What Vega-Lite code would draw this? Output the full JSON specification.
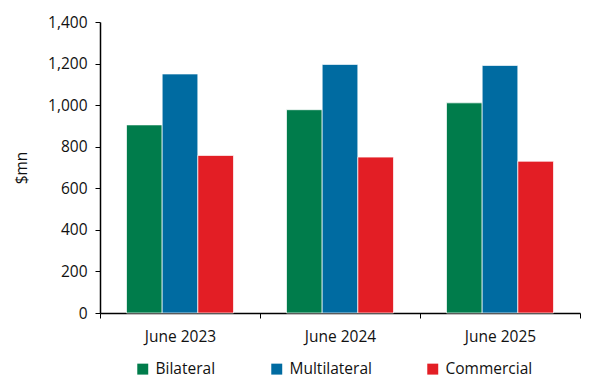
{
  "$schema": "https://vega.github.io/schema/vega-lite/v6.json",
  "width": 480,
  "height": 291,
  "autosize": {"type": "none"},
  "padding": {"left": 100, "top": 22, "right": 14, "bottom": 66},
  "background": "white",
  "config": {
    "view": {"stroke": null},
    "font": "Open Sans",
    "axis": {"domainColor": "black", "tickColor": "black", "labelColor": "#111", "titleColor": "#111", "grid": false, "labelFont": "Open Sans", "titleFont": "Open Sans"},
    "legend": {"labelFont": "Open Sans", "labelColor": "#111"}
  },
  "data": {
    "values": [
      {"period": "June 2023", "type": "Bilateral", "value": 905},
      {"period": "June 2023", "type": "Multilateral", "value": 1150},
      {"period": "June 2023", "type": "Commercial", "value": 758},
      {"period": "June 2024", "type": "Bilateral", "value": 978},
      {"period": "June 2024", "type": "Multilateral", "value": 1196},
      {"period": "June 2024", "type": "Commercial", "value": 750},
      {"period": "June 2025", "type": "Bilateral", "value": 1011},
      {"period": "June 2025", "type": "Multilateral", "value": 1191},
      {"period": "June 2025", "type": "Commercial", "value": 730}
    ]
  },
  "mark": {"type": "bar", "stroke": "white", "strokeWidth": 1, "strokeOpacity": 0.7},
  "encoding": {
    "x": {
      "field": "period", "type": "nominal", "title": null,
      "scale": {"paddingInner": 0, "paddingOuter": 0},
      "axis": {"labelAngle": 0, "labelFontSize": 15.5, "tickBand": "extent", "tickSize": 5, "labelPadding": 11, "domainWidth": 1.5}
    },
    "xOffset": {
      "field": "type", "type": "nominal", "sort": ["Bilateral", "Multilateral", "Commercial"],
      "scale": {"paddingInner": 0, "paddingOuter": 0.743}
    },
    "y": {
      "field": "value", "type": "quantitative", "title": "$mn",
      "scale": {"domain": [0, 1400]},
      "axis": {"values": [0, 200, 400, 600, 800, 1000, 1200, 1400], "format": ",d", "labelFontSize": 15.5, "titleFontSize": 15.5, "titleFontWeight": "normal", "tickSize": 5, "labelPadding": 8, "titlePadding": 18, "domainWidth": 1.5}
    },
    "color": {
      "field": "type", "type": "nominal",
      "sort": ["Bilateral", "Multilateral", "Commercial"],
      "scale": {"domain": ["Bilateral", "Multilateral", "Commercial"], "range": ["#007C4B", "#006BA1", "#E31E25"]},
      "legend": {"title": null, "orient": "none", "direction": "horizontal", "legendX": 35, "legendY": 339, "symbolType": "square", "symbolSize": 120, "symbolStrokeWidth": 0, "labelFontSize": 15.5, "columnPadding": 53, "labelOffset": 5}
    }
  }
}
